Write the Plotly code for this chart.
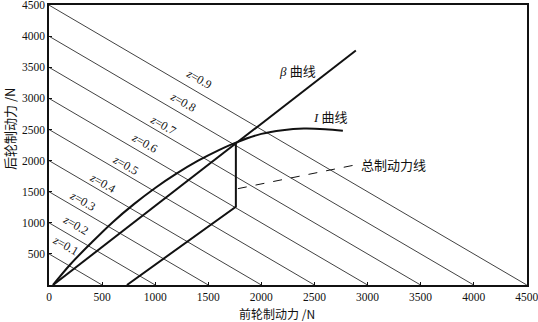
import plotly.graph_objects as go

# ---- data ----
G = 5000  # vehicle weight scale (N) for z-lines
z_levels = [0.1, 0.2, 0.3, 0.4, 0.5, 0.6, 0.7, 0.8, 0.9]
z_label_x = [151, 254, 320, 508, 725, 904, 1073, 1261, 1412]
z_label_y = [645, 968, 1355, 1645, 1936, 2290, 2565, 2936, 3307]

# I curve (ideal distribution)
I_front = [38, 200, 400, 600, 800, 1000, 1200, 1400, 1600, 1760, 2000, 2200, 2400, 2600, 2768]
I_rear = [0, 330, 680, 1010, 1300, 1560, 1790, 1995, 2170, 2290, 2430, 2490, 2515, 2505, 2480]

# beta line (actual fixed-ratio distribution)
beta_front = [38, 2890]
beta_rear = [0, 3770]

# total braking force line (lower line + vertical)
total_front = [734, 1760, 1760]
total_rear = [0, 1258, 2290]

# leader line for label
leader_front = [1779, 2900]
leader_rear = [1549, 1936]

x_ticks = [0, 500, 1000, 1500, 2000, 2500, 3000, 3500, 4000, 4500]
y_ticks = [500, 1000, 1500, 2000, 2500, 3000, 3500, 4000, 4500]

SERIF = "Liberation Serif, Noto Sans CJK SC"
CJK = "Noto Sans CJK SC, Liberation Serif"

fig = go.Figure()

# z lines: F1 + F2 = z*G
for z in z_levels:
    c = z * G
    fig.add_trace(go.Scatter(x=[0, c], y=[c, 0], mode="lines",
                             line=dict(color="#111", width=0.8),
                             hoverinfo="skip", showlegend=False))

fig.add_trace(go.Scatter(x=I_front, y=I_rear, mode="lines",
                         line=dict(color="#111", width=2, shape="spline", smoothing=1.0),
                         showlegend=False))
fig.add_trace(go.Scatter(x=beta_front, y=beta_rear, mode="lines",
                         line=dict(color="#111", width=2), showlegend=False))
fig.add_trace(go.Scatter(x=total_front, y=total_rear, mode="lines",
                         line=dict(color="#111", width=2), showlegend=False))
fig.add_trace(go.Scatter(x=leader_front, y=leader_rear, mode="lines",
                         line=dict(color="#111", width=1, dash="dash"), showlegend=False))

annotations = []
for z, lx, ly in zip(z_levels, z_label_x, z_label_y):
    annotations.append(dict(x=lx, y=ly, xref="x", yref="y", text=f"<i>z</i>={z}",
                            showarrow=False, textangle=30,
                            font=dict(family=SERIF, size=12, color="#111")))

PW, PH = 478, 280
annotations += [
    dict(x=2344, y=3436, xref="x", yref="y", text="<i>β</i> 曲线", showarrow=False,
         font=dict(family=SERIF, size=13, color="#111")),
    dict(x=2655, y=2694, xref="x", yref="y", text="<i>I</i> 曲线", showarrow=False,
         font=dict(family=SERIF, size=13, color="#111")),
    dict(x=2920, y=1936, xref="x", yref="y", text="总制动力线", showarrow=False,
         xanchor="left", font=dict(family=CJK, size=13, color="#111")),
    dict(x=(277 - 49) / PW, y=-(313 - 285) / PH, xref="paper", yref="paper",
         text="前轮制动力 /N", showarrow=False, xanchor="center", yanchor="middle",
         font=dict(family=CJK, size=12, color="#111")),
    dict(x=(9 - 49) / PW, y=(285 - 129) / PH, xref="paper", yref="paper",
         text="后轮制动力 /N", textangle=-90, showarrow=False,
         xanchor="center", yanchor="middle",
         font=dict(family=CJK, size=13, color="#111")),
]

fig.update_layout(
    width=538, height=322,
    margin=dict(l=49, r=11, t=5, b=37, autoexpand=False),
    paper_bgcolor="white", plot_bgcolor="white",
    annotations=annotations,
    font=dict(family=SERIF, size=12, color="#111"),
)

fig.update_xaxes(range=[0, 4502], tickvals=x_ticks, ticktext=[str(v) for v in x_ticks],
                 ticks="inside", ticklen=3, tickcolor="#111",
                 ticklabeloverflow="allow", automargin=False,
                 showline=True, linecolor="#111", linewidth=1.5, mirror=True,
                 showgrid=False, zeroline=False,
                 tickfont=dict(family=SERIF, size=11.5, color="#111"))
fig.update_yaxes(range=[0, 4502], tickvals=y_ticks, ticktext=[str(v) for v in y_ticks],
                 ticks="inside", ticklen=3, tickcolor="#111",
                 ticklabeloverflow="allow", automargin=False,
                 showline=True, linecolor="#111", linewidth=1.5, mirror=True,
                 showgrid=False, zeroline=False,
                 tickfont=dict(family=SERIF, size=11.5, color="#111"))

fig.write_html("out.html")
